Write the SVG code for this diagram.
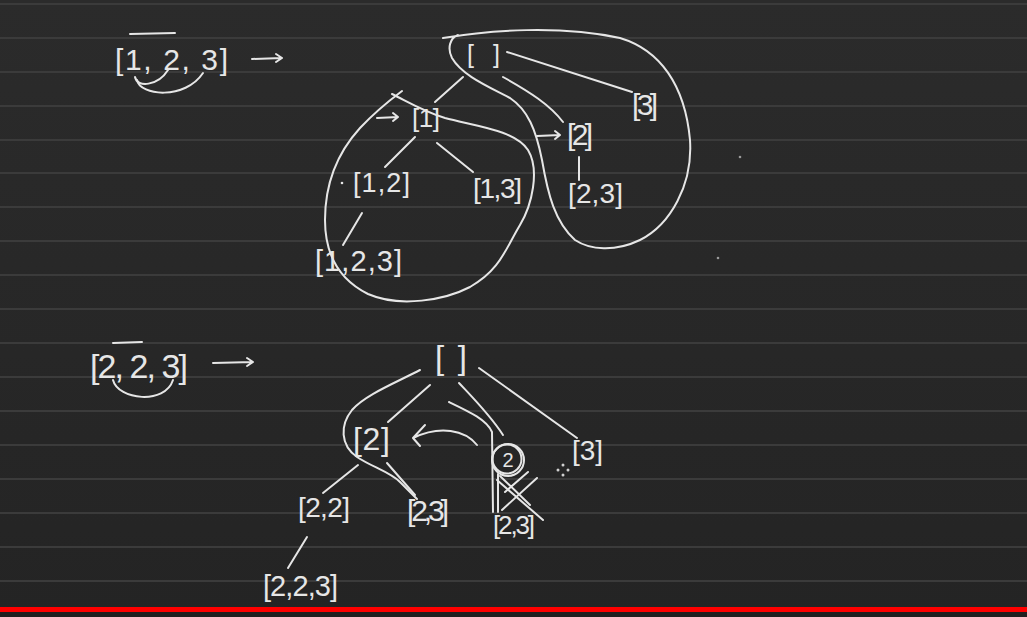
<svg xmlns="http://www.w3.org/2000/svg" width="1027" height="617" viewBox="0 0 1027 617">
<defs>
<linearGradient id="bg" x1="0" y1="0" x2="0" y2="1">
<stop offset="0" stop-color="#2b2b2b"/>
<stop offset="1" stop-color="#242424"/>
</linearGradient>
<style>
.rule{stroke:#3b3b3b;stroke-width:2}
.t{font-family:"Liberation Sans",Arial,sans-serif;fill:#e6e6e6}
.s{fill:none;stroke:#e6e6e6;stroke-width:2;stroke-linecap:round;stroke-linejoin:round}
.d{fill:#9a9a9a}
</style>
</defs>
<rect width="1027" height="617" fill="url(#bg)"/>
<g id="rules">
<line class="rule" x1="0" y1="4" x2="1027" y2="4"/>
<line class="rule" x1="0" y1="38" x2="1027" y2="38"/>
<line class="rule" x1="0" y1="72" x2="1027" y2="72"/>
<line class="rule" x1="0" y1="106" x2="1027" y2="106"/>
<line class="rule" x1="0" y1="140" x2="1027" y2="140"/>
<line class="rule" x1="0" y1="173" x2="1027" y2="173"/>
<line class="rule" x1="0" y1="207" x2="1027" y2="207"/>
<line class="rule" x1="0" y1="241" x2="1027" y2="241"/>
<line class="rule" x1="0" y1="275" x2="1027" y2="275"/>
<line class="rule" x1="0" y1="309" x2="1027" y2="309"/>
<line class="rule" x1="0" y1="343" x2="1027" y2="343"/>
<line class="rule" x1="0" y1="377" x2="1027" y2="377"/>
<line class="rule" x1="0" y1="411" x2="1027" y2="411"/>
<line class="rule" x1="0" y1="445" x2="1027" y2="445"/>
<line class="rule" x1="0" y1="479" x2="1027" y2="479"/>
<line class="rule" x1="0" y1="513" x2="1027" y2="513"/>
<line class="rule" x1="0" y1="547" x2="1027" y2="547"/>
<line class="rule" x1="0" y1="581" x2="1027" y2="581"/>
</g>
<rect x="0" y="607" width="1027" height="5" fill="#ff0000"/>
<rect x="0" y="612" width="1027" height="5" fill="#202020"/>

<g id="connectors">
<!-- top-left annotation -->
<path class="s" d="M130,34 L175,33" stroke-width="3"/>
<path class="s" d="M135,77 C137,88 158,86 168,70"/>
<path class="s" d="M137,80 C140,96 185,100 203,73"/>
<path class="s" d="M252,59 L282,58 M276,54 L282,58 L276,62"/>
<!-- top tree edges -->
<path class="s" d="M463,77 L435,102"/>
<path class="s" d="M503,77 C530,92 550,105 563,122"/>
<path class="s" d="M507,52 L632,92"/>
<path class="s" d="M415,137 L385,167"/>
<path class="s" d="M437,143 L473,172"/>
<path class="s" d="M579,157 L579,180"/>
<path class="s" d="M362,213 L343,245"/>
<path class="s" d="M377,118 L398,117 M393,113 L398,117 L393,121"/>
<path class="s" d="M537,136 L560,135 M555,131 L560,135 L555,139"/>
<!-- loops -->
<path class="s" d="M392,94 C410,103 425,112 445,118 C475,126 515,130 528,150 C540,170 532,205 520,225 C505,250 500,270 470,287 C445,300 400,308 368,294 C340,280 325,255 325,220 C325,180 340,150 360,128 C375,112 390,100 402,91"/>
<path class="s" d="M443,38 C490,30 560,25 620,38 C660,50 685,85 690,140 C693,185 670,225 640,240 C615,252 590,250 575,240 C555,222 548,195 542,160 C536,130 528,110 510,98 C485,85 462,75 452,58 C447,48 450,38 458,35"/>
<!-- bottom-left annotation -->
<path class="s" d="M113,343 L142,342" stroke-width="3"/>
<path class="s" d="M113,380 C118,400 165,405 173,380"/>
<path class="s" d="M213,363 L253,362 M247,358 L253,362 L247,366"/>
<!-- bottom tree edges -->
<path class="s" d="M420,370 C395,383 365,395 352,410 C340,425 340,445 357,457 C372,467 390,472 400,482 C408,490 413,495 417,499"/>
<path class="s" d="M430,385 L388,422"/>
<path class="s" d="M459,383 C475,400 490,415 503,435"/>
<path class="s" d="M449,402 C470,412 487,420 492,432 L493,512"/>
<path class="s" d="M479,368 L577,438"/>
<path class="s" d="M477,445 C465,430 440,425 413,438 M425,425 L413,438 L420,446"/>
<path class="s" d="M358,465 L323,493"/>
<path class="s" d="M387,463 L415,495"/>
<path class="s" d="M307,537 L288,568"/>
<!-- cross-out -->
<path class="s" d="M497,480 L543,520 M537,478 L502,510 M500,476 L530,505 M505,492 L528,472 M498,474 L498,512" stroke-width="1.6"/>
<circle class="s" cx="508" cy="460" r="16"/>
<circle class="s" cx="507" cy="459" r="14.5" stroke-width="1.5"/>
</g>

<g id="marks">
<circle class="d" cx="740" cy="157" r="1.3"/>
<circle class="d" cx="718" cy="258" r="1.3"/>
<circle cx="342" cy="183" r="1.3" fill="#e6e6e6"/>
<g fill="#d0d0d0"><circle cx="563" cy="465" r="1.5"/><circle cx="558" cy="470" r="1.5"/><circle cx="568" cy="470" r="1.5"/><circle cx="563" cy="475" r="1.5"/></g>
</g>

<g id="n-tl"><text class="t" x="115" y="70" font-size="30" textLength="113" lengthAdjust="spacing">[1, 2, 3]</text></g>
<g id="n-root1"><text class="t" x="467" y="63" font-size="25" textLength="33" lengthAdjust="spacing">[ ]</text></g>
<g id="n-1"><text class="t" x="412" y="127" font-size="26" textLength="28" lengthAdjust="spacing">[1]</text></g>
<g id="n-2"><text class="t" x="567" y="145" font-size="30" textLength="26" lengthAdjust="spacing">[2]</text></g>
<g id="n-3"><text class="t" x="632" y="115" font-size="30" textLength="26" lengthAdjust="spacing">[3]</text></g>
<g id="n-12"><text class="t" x="353" y="192" font-size="27" textLength="57" lengthAdjust="spacing">[1,2]</text></g>
<g id="n-13"><text class="t" x="473" y="198" font-size="28" textLength="49" lengthAdjust="spacing">[1,3]</text></g>
<g id="n-23"><text class="t" x="568" y="203" font-size="28" textLength="55" lengthAdjust="spacing">[2,3]</text></g>
<g id="n-123"><text class="t" x="315" y="271" font-size="29" textLength="87" lengthAdjust="spacing">[1,2,3]</text></g>

<g id="n-bl"><text class="t" x="90" y="378" font-size="34" textLength="98" lengthAdjust="spacing">[2, 2, 3]</text></g>
<g id="n-root2"><text class="t" x="435" y="369" font-size="33" textLength="32" lengthAdjust="spacing">[ ]</text></g>
<g id="n-b2"><text class="t" x="353" y="450" font-size="32" textLength="37" lengthAdjust="spacing">[2]</text></g>
<g id="n-bc2"><text class="t" x="508" y="467" font-size="20" text-anchor="middle">2</text></g>
<g id="n-b3"><text class="t" x="572" y="460" font-size="28" textLength="31" lengthAdjust="spacing">[3]</text></g>
<g id="n-b22"><text class="t" x="298" y="517" font-size="28" textLength="52" lengthAdjust="spacing">[2,2]</text></g>
<g id="n-b23a"><text class="t" x="407" y="521" font-size="30" textLength="42" lengthAdjust="spacing">[2,3]</text></g>
<g id="n-b23b"><text class="t" x="493" y="534" font-size="26" textLength="42" lengthAdjust="spacing">[2,3]</text></g>
<g id="n-b223"><text class="t" x="263" y="596" font-size="29" textLength="75" lengthAdjust="spacing">[2,2,3]</text></g>
</svg>
